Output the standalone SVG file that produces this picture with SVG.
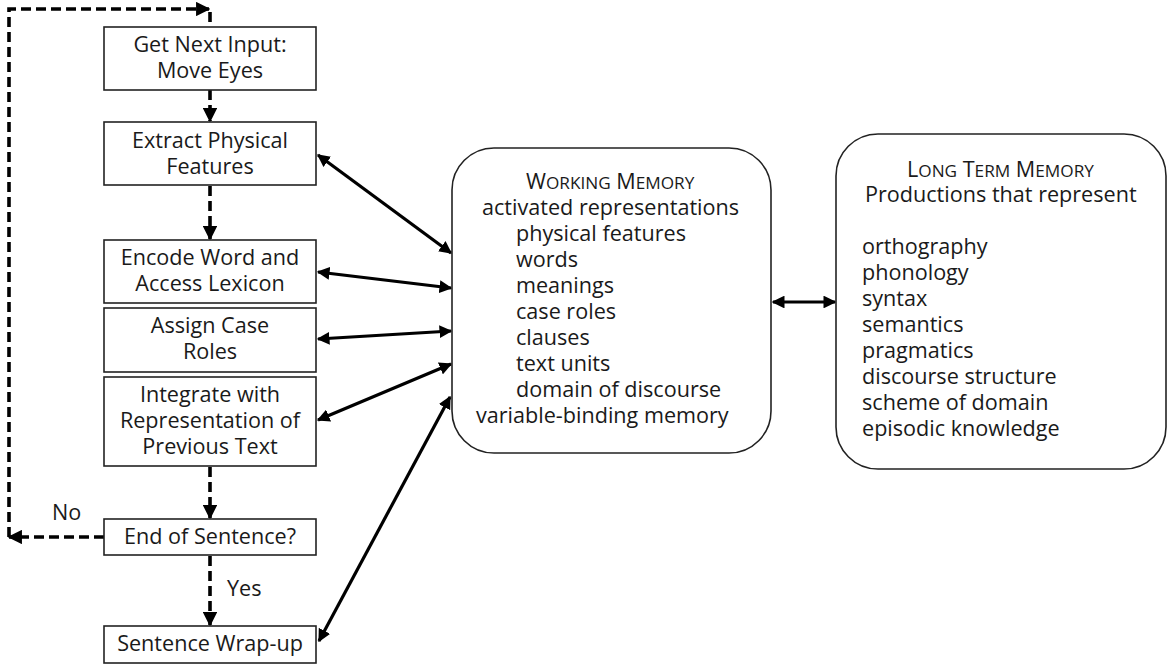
<svg xmlns="http://www.w3.org/2000/svg" width="1167" height="664" viewBox="0 0 1167 664">
<style>
text{font-family:"Open Sans","Noto Sans",sans-serif;font-size:21.6px;fill:#1a1a1a}
.c{text-anchor:middle}
.box{fill:#fff;stroke:#222;stroke-width:1.6}
.dash{fill:none;stroke:#000;stroke-width:3.6;stroke-dasharray:10 5}
.solid{fill:none;stroke:#000;stroke-width:3.2}
.sc{font-size:17.2px}
</style>
<defs>
<marker id="ah" viewBox="0 0 10 10" refX="9" refY="5" markerWidth="4" markerHeight="4" orient="auto-start-reverse" markerUnits="strokeWidth">
<path d="M0,0 L10,5 L0,10 Z" fill="#000"/>
</marker>
</defs>
<rect width="1167" height="664" fill="#fff"/>
<g id="connectors">
<path class="dash" d="M104,537 H9" marker-end="url(#ah)"/>
<path class="dash" d="M9,537 V9 H209" marker-end="url(#ah)"/>
<path class="dash" d="M210,12 V27"/>
<path class="dash" d="M210,90 V121" marker-end="url(#ah)"/>
<path class="dash" d="M210,186 V239" marker-end="url(#ah)"/>
<path class="dash" d="M210,467 V518" marker-end="url(#ah)"/>
<path class="dash" d="M210,556 V625" marker-end="url(#ah)"/>
<path class="solid" d="M318,155 L451,253" marker-start="url(#ah)" marker-end="url(#ah)"/>
<path class="solid" d="M318,272 L451,288" marker-start="url(#ah)" marker-end="url(#ah)"/>
<path class="solid" d="M318,339 L451,331" marker-start="url(#ah)" marker-end="url(#ah)"/>
<path class="solid" d="M318,420 L451,364" marker-start="url(#ah)" marker-end="url(#ah)"/>
<path class="solid" d="M319,641 L450,397" marker-start="url(#ah)" marker-end="url(#ah)"/>
<path class="solid" d="M773,302 L835,302" marker-start="url(#ah)" marker-end="url(#ah)"/>
<text x="52" y="520">No</text>
<text x="227" y="596">Yes</text>
</g>
<g id="n1"><rect class="box" x="104" y="27" width="212" height="63"/>
<text class="c" x="210" y="52">Get Next Input:<tspan x="210" dy="26">Move Eyes</tspan></text></g>
<g id="n2"><rect class="box" x="104" y="122" width="212" height="63"/>
<text class="c" x="210" y="148">Extract Physical<tspan x="210" dy="26">Features</tspan></text></g>
<g id="n3"><rect class="box" x="104" y="240" width="212" height="63"/>
<text class="c" x="210" y="265">Encode Word and<tspan x="210" dy="26">Access Lexicon</tspan></text></g>
<g id="n4"><rect class="box" x="104" y="308" width="212" height="64"/>
<text class="c" x="210" y="333">Assign Case<tspan x="210" dy="26">Roles</tspan></text></g>
<g id="n5"><rect class="box" x="104" y="377" width="212" height="89"/>
<text class="c" x="210" y="402">Integrate with<tspan x="210" dy="26">Representation of</tspan><tspan x="210" dy="26">Previous Text</tspan></text></g>
<g id="n6"><rect class="box" x="104" y="519" width="212" height="36"/>
<text class="c" x="210" y="544">End of Sentence?</text></g>
<g id="n7"><rect class="box" x="104" y="626" width="212" height="37"/>
<text class="c" x="210" y="651">Sentence Wrap-up</text></g>
<g id="wm"><rect class="box" x="452" y="148" width="319" height="305" rx="42" ry="42"/>
<text x="526" y="189">W<tspan class="sc">ORKING</tspan> M<tspan class="sc">EMORY</tspan><tspan x="482" y="215">activated representations</tspan><tspan x="516" y="241">physical features</tspan><tspan x="516" y="267">words</tspan><tspan x="516" y="293">meanings</tspan><tspan x="516" y="319">case roles</tspan><tspan x="516" y="345">clauses</tspan><tspan x="516" y="371">text units</tspan><tspan x="516" y="397">domain of discourse</tspan><tspan x="476" y="423">variable-binding memory</tspan></text>
</g>
<g id="ltm"><rect class="box" x="836" y="134" width="330" height="335" rx="42" ry="42"/>
<text x="907" y="177">L<tspan class="sc">ONG</tspan> T<tspan class="sc">ERM</tspan> M<tspan class="sc">EMORY</tspan><tspan x="865" y="202">Productions that represent</tspan><tspan x="862" y="254">orthography</tspan><tspan x="862" y="280">phonology</tspan><tspan x="862" y="306">syntax</tspan><tspan x="862" y="332">semantics</tspan><tspan x="862" y="358">pragmatics</tspan><tspan x="862" y="384">discourse structure</tspan><tspan x="862" y="410">scheme of domain</tspan><tspan x="862" y="436">episodic knowledge</tspan></text>
</g>
</svg>
